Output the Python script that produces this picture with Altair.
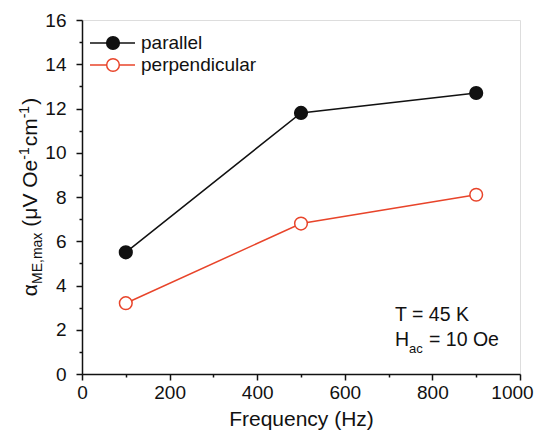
import altair as alt
import pandas as pd

# ---- data ----
freq = [100, 500, 900]
parallel = [5.5, 11.8, 12.7]
perpendicular = [3.2, 6.8, 8.1]
series_names = ["parallel", "perpendicular"]
stroke_colors = ["#111111", "#e8442a"]
fill_colors = ["#111111", "#ffffff"]
x_major = [0, 200, 400, 600, 800]
x_last = [1000]
x_minor = [100, 300, 500, 700, 900]
y_major = [0, 2, 4, 6, 8, 10, 12, 14, 16]
y_minor = [1, 3, 5, 7, 9, 11, 13, 15]

rows = []
for f, v in zip(freq, parallel):
    rows.append({"freq": f, "alpha": v, "series": series_names[0]})
for f, v in zip(freq, perpendicular):
    rows.append({"freq": f, "alpha": v, "series": series_names[1]})
df = pd.DataFrame(rows)

FONT = "Liberation Sans"
W, H = 438, 354

xscale = alt.Scale(domain=[0, 1000], nice=False, zero=False)
yscale = alt.Scale(domain=[0, 16], nice=False, zero=False)
cstroke = alt.Scale(domain=series_names, range=stroke_colors)
cfill = alt.Scale(domain=series_names, range=fill_colors)

common_lab = dict(labelFontSize=19, labelFont=FONT, labelColor="#111", grid=False,
                  tickWidth=1.5, tickColor="#111", labelFlush=False, format="d")

x_axis_major = alt.Axis(values=x_major, orient="bottom", title="Frequency (Hz)",
                        titleFontSize=21, titleFont=FONT, titleFontWeight="normal",
                        titleColor="#111", titlePadding=6,
                        labelPadding=3, tickSize=6,
                        domainColor="#111", domainWidth=1.5, **common_lab)
x_axis_last = alt.Axis(values=x_last, orient="bottom", title=None, domain=False,
                       labelPadding=3, tickSize=6, labelOffset=-8, **common_lab)
y_axis_major = alt.Axis(values=y_major, orient="left", title=None,
                        labelPadding=10, tickSize=6,
                        domainColor="#111", domainWidth=1.5, **common_lab)
x_axis_minor = alt.Axis(values=x_minor, orient="bottom", title=None, labels=False,
                        domain=False, tickSize=3, tickWidth=1.5, tickColor="#111", grid=False)
y_axis_minor = alt.Axis(values=y_minor, orient="left", title=None, labels=False,
                        domain=False, tickSize=3, tickWidth=1.5, tickColor="#111", grid=False)

lines = alt.Chart(df).mark_line(strokeWidth=1.5).encode(
    x=alt.X("freq:Q", scale=xscale, axis=x_axis_major),
    y=alt.Y("alpha:Q", scale=yscale, axis=y_axis_major),
    stroke=alt.Stroke("series:N", scale=cstroke, legend=None),
    detail="series:N",
)

minor = alt.Chart(df).mark_point(opacity=0).encode(
    x=alt.X("freq:Q", scale=xscale, axis=x_axis_minor),
    y=alt.Y("alpha:Q", scale=yscale, axis=y_axis_minor),
)

last = alt.Chart(df).mark_point(opacity=0).encode(
    x=alt.X("freq:Q", scale=xscale, axis=x_axis_last),
    y=alt.Y("alpha:Q", scale=yscale, axis=None),
)

points = alt.Chart(df).mark_point(shape="circle", size=160, strokeWidth=1.5,
                                  opacity=1, fillOpacity=1).encode(
    x=alt.X("freq:Q", scale=xscale, axis=None),
    y=alt.Y("alpha:Q", scale=yscale, axis=None),
    stroke=alt.Stroke("series:N", scale=cstroke, legend=None),
    fill=alt.Fill("series:N", scale=cfill, legend=None),
)

one = pd.DataFrame({"k": [0]})


def txt(s, x, y, size, angle=0, align="left", baseline="alphabetic"):
    kw = dict(text=s, font=FONT, fontSize=size, color="#111", align=align, baseline=baseline)
    if angle:
        kw["angle"] = angle
    return alt.Chart(one).mark_text(**kw).encode(x=alt.value(x), y=alt.value(y))


# legend (manual)
legend_layers = []
leg_y = [23, 45]
for i, name in enumerate(series_names):
    legend_layers.append(
        alt.Chart(one).mark_rule(strokeWidth=1.5, color=stroke_colors[i]).encode(
            x=alt.value(8), x2=alt.value(53), y=alt.value(leg_y[i])))
    legend_layers.append(
        alt.Chart(one).mark_point(shape="circle", size=160, strokeWidth=1.5, opacity=1,
                                  fillOpacity=1, stroke=stroke_colors[i],
                                  fill=fill_colors[i]).encode(
            x=alt.value(31), y=alt.value(leg_y[i])))
    legend_layers.append(txt(name, 59, leg_y[i], 19, baseline="middle"))

# annotation
ann = [
    txt("T = 45 K", 313, 301, 19.5),
    txt("H", 313, 326, 19.5),
    txt("ac", 327, 333, 13),
    txt("= 10 Oe", 347, 326, 19.5),
]

# y-axis title, rotated, built from pieces (gap = extra space before piece, in px)
AW = {"α": 0.578, "M": 0.833, "E": 0.667, ",": 0.278, "m": 0.833, "a": 0.556, "x": 0.5,
      "(": 0.333, "μ": 0.576, "V": 0.667, "O": 0.778, "e": 0.556, " ": 0.278,
      "-": 0.333, "1": 0.556, "c": 0.5, ")": 0.333}
pieces = [("α", 21, 0, 0), ("ME,max", 14, 5, 0), ("(μV Oe", 21, 0, 6), ("-1", 14, -8, 0),
          ("cm", 21, 0, 1), ("-1", 14, -8, 0), (")", 21, 0, 1)]
total = sum(sum(AW[c] for c in s) * sz + g for s, sz, _, g in pieces)
base_x = -45
pos_y = H / 2 + total / 2
ytitle = []
for s, sz, dx, g in pieces:
    pos_y -= g
    ytitle.append(txt(s, base_x + dx, pos_y, sz, angle=270))
    pos_y -= sum(AW[c] for c in s) * sz

chart = alt.layer(minor, last, lines, points, *legend_layers, *ann, *ytitle).resolve_axis(
    x="independent", y="independent"
).properties(
    width=W, height=H,
    autosize=alt.AutoSizeParams(type="none"),
    padding={"left": 74, "top": 12, "right": 14, "bottom": 57},
).configure_view(stroke="#555", strokeWidth=1.5).configure(background="white")

chart.save("out.html", embed_options={"renderer": "svg", "actions": False})
